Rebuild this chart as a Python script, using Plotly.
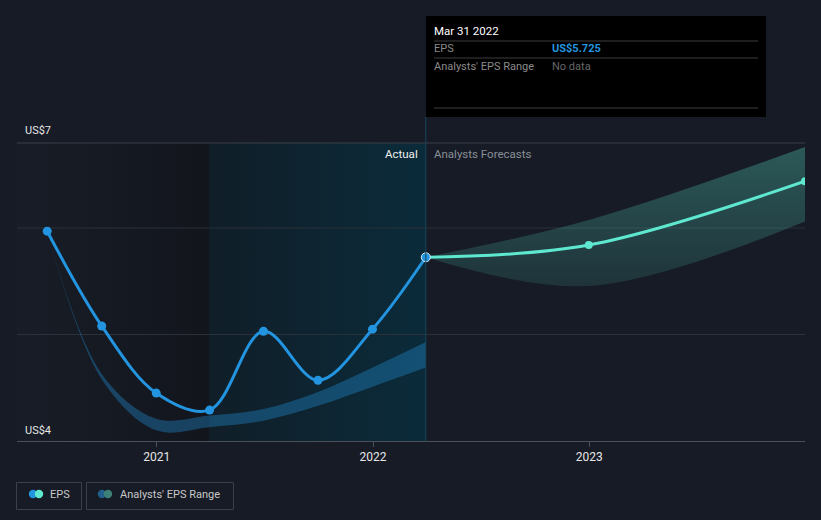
import plotly.graph_objects as go

# ---------------- data ----------------
eps_dates = ["2020-06-30", "2020-09-30", "2020-12-31", "2021-03-31", "2021-06-30",
             "2021-09-30", "2021-12-31", "2022-03-31"]
eps_values = [5.97, 5.08, 4.45, 4.29, 5.03, 4.57, 5.05, 5.725]

past_range_dates = ["2020-06-30", "2020-09-30", "2020-12-31", "2021-03-31", "2021-06-30",
                    "2021-09-30", "2021-12-31", "2022-03-31"]
past_range_high = [5.97, 4.63, 4.21, 4.24, 4.30, 4.46, 4.69, 4.93]
past_range_low = [5.97, 4.58, 4.10, 4.13, 4.19, 4.33, 4.51, 4.69]

fc_dates = ["2022-03-31", "2022-12-31", "2023-12-31"]
fc_values = [5.725, 5.84, 6.44]
fc_high = [5.725, 6.075, 6.76]
fc_low = [5.725, 5.455, 6.06]

x_ticks = ["2021-01-01", "2022-01-01", "2023-01-01"]
x_ticklabels = ["2021", "2022", "2023"]
y_grid = [5, 6]

x_start, x_end = "2020-05-10", "2023-12-31"
y_min, y_max = 4.0, 6.798
highlight_start = "2021-03-31"
today = "2022-03-31"

# ---------------- style ----------------
BG = "#161b25"
BLUE = "#2394df"
TEAL = "#5ee8d0"
GRID = "#2b313b"
W, H = 821, 520
L, R, T, B = 17, 16, 143, 79
FONT = "Roboto"

def px(xp):
    return (xp - L) / (W - L - R)

def py(yp):
    return (H - B - yp) / (H - T - B)

fig = go.Figure()

# background regions (horizontal gradients)
fig.add_trace(go.Scatter(
    x=[x_start, highlight_start, highlight_start, x_start, x_start],
    y=[y_min, y_min, y_max, y_max, y_min], mode="none", fill="toself",
    fillgradient=dict(type="horizontal", colorscale=[[0, "#181d27"], [1, "#12151c"]]),
    hoverinfo="skip", showlegend=False))
fig.add_trace(go.Scatter(
    x=[highlight_start, today, today, highlight_start, highlight_start],
    y=[y_min, y_min, y_max, y_max, y_min], mode="none", fill="toself",
    fillgradient=dict(type="horizontal", colorscale=[[0, "#101e28"], [1, "#0b2b3a"]]),
    hoverinfo="skip", showlegend=False))

# gridlines over the background regions
for g in y_grid:
    fig.add_trace(go.Scatter(x=[x_start, x_end], y=[g, g], mode="lines",
                             line=dict(color=GRID, width=1), hoverinfo="skip",
                             showlegend=False))

# past analyst range band
fig.add_trace(go.Scatter(x=past_range_dates, y=past_range_high, mode="lines",
                         line=dict(width=0, shape="spline", color="rgba(0,0,0,0)"),
                         hoverinfo="skip", showlegend=False))
fig.add_trace(go.Scatter(x=past_range_dates, y=past_range_low, mode="lines",
                         line=dict(width=0, shape="spline", color="rgba(0,0,0,0)"),
                         fill="tonexty", fillcolor="rgba(35,148,223,0.35)",
                         hoverinfo="skip", showlegend=False))

# forecast band
fig.add_trace(go.Scatter(x=fc_dates, y=fc_high, mode="lines",
                         line=dict(width=0, shape="spline", color="rgba(0,0,0,0)"),
                         hoverinfo="skip", showlegend=False))
fig.add_trace(go.Scatter(x=fc_dates, y=fc_low, mode="lines",
                         line=dict(width=0, shape="spline", color="rgba(0,0,0,0)"),
                         fill="tonexty",
                         fillgradient=dict(type="vertical",
                                           colorscale=[[0, "rgba(94,232,208,0.12)"],
                                                       [1, "rgba(94,232,208,0.30)"]]),
                         hoverinfo="skip", showlegend=False))

# forecast line
fig.add_trace(go.Scatter(x=fc_dates, y=fc_values, mode="lines+markers",
                         line=dict(color=TEAL, width=3, shape="spline"),
                         marker=dict(size=8, color=TEAL),
                         cliponaxis=True, showlegend=False))

# EPS line
fig.add_trace(go.Scatter(x=eps_dates, y=eps_values, mode="lines+markers",
                         line=dict(color=BLUE, width=3, shape="spline"),
                         marker=dict(size=9, color=BLUE,
                                     line=dict(width=[0] * (len(eps_dates) - 1) + [1],
                                               color="#d8ecf8")),
                         showlegend=False))

shapes = []
# top border line and vertical today line
shapes.append(dict(type="line", xref="paper", yref="paper", x0=0, x1=1, y0=1, y1=1,
                   line=dict(color="#3a3f48", width=1), layer="above"))
shapes.append(dict(type="line", xref="x", yref="paper", x0=today, x1=today, y0=0, y1=py(117),
                   line=dict(color="#17485a", width=1), layer="above"))
# tooltip box
shapes.append(dict(type="rect", xref="paper", yref="paper", x0=px(426), x1=px(766),
                   y0=py(117), y1=py(16), fillcolor="#000000", line=dict(width=0)))
for yy in (41, 58, 108):
    shapes.append(dict(type="line", xref="paper", yref="paper", x0=px(434), x1=px(758),
                       y0=py(yy), y1=py(yy), line=dict(color="#3c3c3c", width=1)))
# legend boxes
shapes.append(dict(type="rect", xref="paper", yref="paper", x0=px(16.5), x1=px(81.5),
                   y0=py(509.5), y1=py(482.5), line=dict(color="#3a3f48", width=1)))
shapes.append(dict(type="rect", xref="paper", yref="paper", x0=px(86.5), x1=px(233.5),
                   y0=py(509.5), y1=py(482.5), line=dict(color="#3a3f48", width=1)))

def dot(cx, cy, r, color):
    return dict(type="circle", xref="paper", yref="paper", x0=px(cx - r), x1=px(cx + r),
                y0=py(cy + r), y1=py(cy - r), fillcolor=color, line=dict(width=0))

shapes += [dot(33, 494, 4.2, BLUE), dot(39, 494, 4.2, TEAL),
           dot(102, 494, 4.2, "#235f8c"), dot(108, 494, 4.2, "#3d8078")]

annotations = []

def text(x, y, s, color, size=12, anchor="left", weight=None):
    t = s if weight is None else f"<b>{s}</b>"
    xx = x - 2 if anchor == "left" else x + 2
    annotations.append(dict(xref="paper", yref="paper", x=px(xx), y=py(y), text=t,
                            showarrow=False, xanchor=anchor, yanchor="middle",
                            font=dict(family=FONT, size=size, color=color)))

text(25, 130, "US$7", "#e6e6e6", 11)
text(25, 430, "US$4", "#e6e6e6", 11)
text(418, 154, "Actual", "#f0f0f0", 11.5, anchor="right")
text(434, 154, "Analysts Forecasts", "#8a8f98", 11.5)
text(434, 31, "Mar 31 2022", "#ffffff", 11.5)
text(434, 49, "EPS", "#8a8a8a", 11)
text(552, 49, "US$5.725", BLUE, 11, weight=True)
text(434, 66, "Analysts' EPS Range", "#8a8a8a", 11)
text(552, 66, "No data", "#666666", 11)
text(50, 494, "EPS", "#c8c8c8", 11)
text(120, 494, "Analysts' EPS Range", "#c8c8c8", 11)

fig.update_layout(
    width=W, height=H, margin=dict(l=L, r=R, t=T, b=B),
    paper_bgcolor=BG, plot_bgcolor=BG,
    font=dict(family=FONT, color="#e6e6e6", size=12),
    shapes=shapes, annotations=annotations, showlegend=False,
    xaxis=dict(type="date", range=[x_start, x_end], tickvals=x_ticks, ticktext=x_ticklabels,
               showgrid=False, showline=True, linecolor="#4a4f58", linewidth=1,
               ticks="outside", ticklen=5, tickcolor="#4a4f58",
               tickfont=dict(family=FONT, size=12, color="#e6e6e6"), zeroline=False,
               fixedrange=True),
    yaxis=dict(range=[y_min, y_max], showticklabels=False,
               showgrid=False, zeroline=False, showline=False, fixedrange=True),
)

fig.write_html("out.html", config={"displayModeBar": False},
               post_script="document.body.style.margin='0';document.body.style.background='%s';" % BG)
